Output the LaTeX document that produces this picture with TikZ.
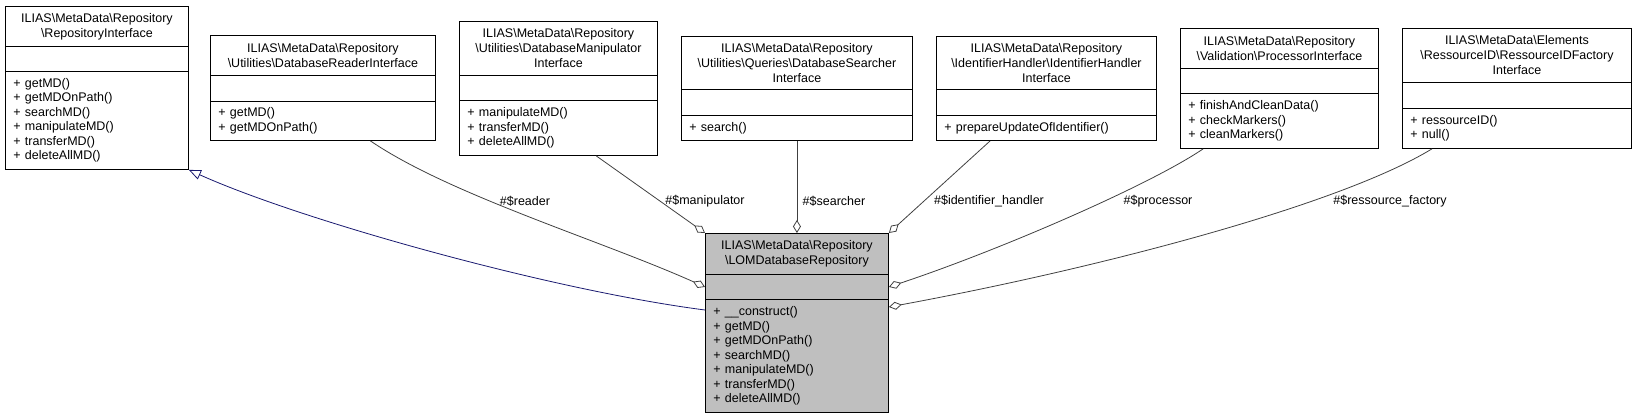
\documentclass[tikz,border=0pt]{standalone}
\usepackage{fontspec}
\setmainfont{Liberation Sans}
\usetikzlibrary{arrows.meta,calc}
\definecolor{lomgray}{HTML}{BFBFBF}
\definecolor{inh}{HTML}{191970}
\definecolor{edge}{HTML}{404040}
\tikzset{
  box/.style={draw=black,line width=0.9pt,inner sep=0pt,anchor=north west,font=\fontsize{12.5}{15}\selectfont},
  agg/.style={draw=edge,line width=0.8pt,-{Diamond[open,length=13pt,width=8pt,line width=0.8pt]}},
  inhe/.style={draw=inh,line width=0.8pt,-{Triangle[open,length=12pt,width=10pt,line width=0.8pt]}},
  lbl/.style={font=\fontsize{12.5}{15}\selectfont,inner sep=0pt}
}
\newcommand\umlcls[9]{%
  \pgfmathsetmacro\cw{#3-#2}\pgfmathsetmacro\tw{#3-#2-16}%
  \pgfmathsetmacro\ha{#5-#4}\pgfmathsetmacro\hb{#6-#5}\pgfmathsetmacro\hc{#7-#6}%
  \node[box,minimum width=\cw pt,minimum height=\ha pt,text width=\tw pt,align=center] (#1-t) at (#2,#4) {#8};
  \node[box,minimum width=\cw pt,minimum height=\hb pt] (#1-e) at (#2,#5) {};
  \node[box,minimum width=\cw pt,minimum height=\hc pt,text width=\tw pt,align=left,font=\fontsize{12.5}{14.5}\selectfont] (#1-m) at (#2,#6) {#9};
}
\begin{document}
\begin{tikzpicture}[x=1pt,y=-1pt]
\useasboundingbox (0,0) rectangle (1636,419);
\umlcls{ri}{5}{188}{6}{46}{71}{169}{ILIAS\textbackslash MetaData\textbackslash Repository\\\textbackslash RepositoryInterface}{+ getMD()\\+ getMDOnPath()\\+ searchMD()\\+ manipulateMD()\\+ transferMD()\\+ deleteAllMD()}
\umlcls{rd}{210}{435}{35}{75}{101}{140}{ILIAS\textbackslash MetaData\textbackslash Repository\\\textbackslash Utilities\textbackslash DatabaseReaderInterface}{+ getMD()\\+ getMDOnPath()}
\umlcls{mp}{459}{657}{21}{75}{100}{155}{ILIAS\textbackslash MetaData\textbackslash Repository\\\textbackslash Utilities\textbackslash DatabaseManipulator\\Interface}{+ manipulateMD()\\+ transferMD()\\+ deleteAllMD()}
\umlcls{sr}{681}{912}{36}{89}{115}{140}{ILIAS\textbackslash MetaData\textbackslash Repository\\\textbackslash Utilities\textbackslash Queries\textbackslash DatabaseSearcher\\Interface}{+ search()}
\umlcls{ih}{936}{1156}{36}{89}{115}{140}{ILIAS\textbackslash MetaData\textbackslash Repository\\\textbackslash IdentifierHandler\textbackslash IdentifierHandler\\Interface}{+ prepareUpdateOfIdentifier()}
\umlcls{pr}{1180}{1378}{28}{68}{93}{148}{ILIAS\textbackslash MetaData\textbackslash Repository\\\textbackslash Validation\textbackslash ProcessorInterface}{+ finishAndCleanData()\\+ checkMarkers()\\+ cleanMarkers()}
\umlcls{fa}{1402}{1631}{28}{82}{108}{148}{ILIAS\textbackslash MetaData\textbackslash Elements\\\textbackslash RessourceID\textbackslash RessourceIDFactory\\Interface}{+ ressourceID()\\+ null()}
\begin{scope}[box/.append style={fill=lomgray}]
\umlcls{lom}{705}{888}{233}{274}{299}{412}{ILIAS\textbackslash MetaData\textbackslash Repository\\\textbackslash LOMDatabaseRepository}{+ \_\_construct()\\+ getMD()\\+ getMDOnPath()\\+ searchMD()\\+ manipulateMD()\\+ transferMD()\\+ deleteAllMD()}
\end{scope}
% inheritance
\draw[inhe] ($(lom-m.north west)+(0,11)$) .. controls (550,290) and (300,220) .. (ri-m.south east);
% aggregations
\draw[agg] ($(rd-m.south west)!0.71!(rd-m.south east)$) .. controls (450,195) and (600,240) .. (lom-e.west);
\draw[agg] ($(mp-m.south west)!0.69!(mp-m.south east)$) -- (lom-t.north west);
\draw[agg] (sr-m.south) -- (lom-t.north);
\draw[agg] ($(ih-m.south west)!0.245!(ih-m.south east)$) -- (lom-t.north east);
\draw[agg] ($(pr-m.south west)!0.116!(pr-m.south east)$) .. controls (1150,185) and (1000,250) .. (lom-e.east);
\draw[agg] ($(fa-m.south west)!0.13!(fa-m.south east)$) .. controls (1340,205) and (1100,268) .. ($(lom-m.north east)+(0,8)$);
\node[lbl] (l1) at (525,201) {\#\$reader};
\node[lbl] (l2) at (705,201) {\#\$manipulator};
\node[lbl] (l3) at (834,201) {\#\$searcher};
\node[lbl] (l4) at (989,201) {\#\$identifier\_handler};
\node[lbl] (l5) at (1158,201) {\#\$processor};
\node[lbl] (l6) at (1390,201) {\#\$ressource\_factory};
\end{tikzpicture}
\end{document}
